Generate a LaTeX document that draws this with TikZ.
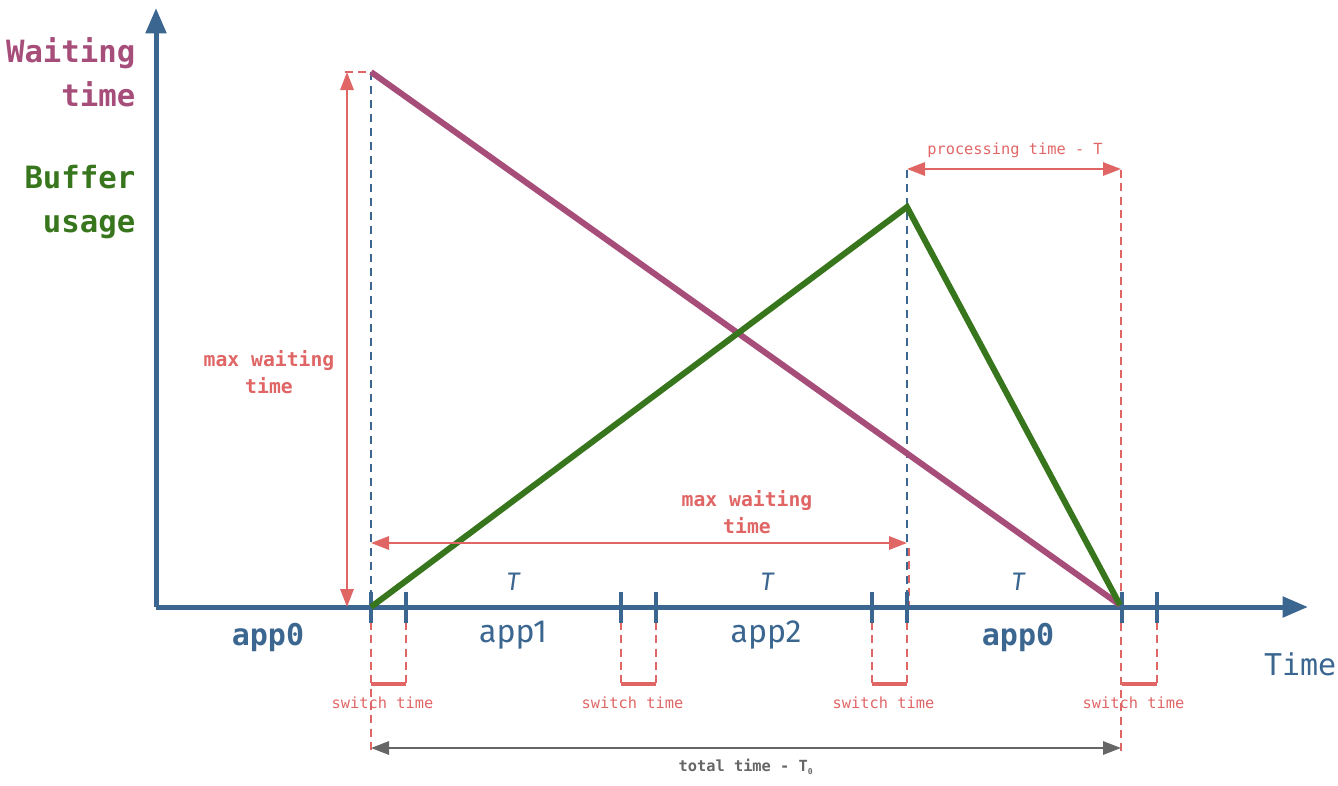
\documentclass[tikz,border=0pt]{standalone}
\usepackage{fontspec}
\setmainfont{Fira Sans}
\newfontfamily\mono{DejaVu Sans Mono}
\usetikzlibrary{arrows.meta}
\definecolor{axisblue}{RGB}{58,102,144}
\definecolor{waitpurple}{RGB}{166,77,121}
\definecolor{bufgreen}{RGB}{56,118,29}
\definecolor{annred}{RGB}{224,102,102}
\definecolor{anngray}{RGB}{102,102,102}
\tikzset{
  axisline/.style={draw=axisblue,line width=3.75pt,-{Triangle[length=19pt,width=15pt]}},
  tickmark/.style={draw=axisblue,line width=2.6pt},
  curveline/.style={line width=4.5pt,line join=miter},
  bluedash/.style={draw=axisblue,line width=1.5pt,dash pattern=on 6pt off 4.5pt},
  reddash/.style={draw=annred,line width=1.5pt,dash pattern=on 6pt off 4pt},
  redarrow/.style={draw=annred,line width=1.5pt,{Triangle[length=13.5pt,width=10pt]}-{Triangle[length=13.5pt,width=10pt]}},
  grayarrow/.style={draw=anngray,line width=1.5pt,{Triangle[length=13.5pt,width=10pt]}-{Triangle[length=13.5pt,width=10pt]}},
  bracket/.style={draw=annred,line width=3.5pt},
  bigtitle/.style={font=\mono\bfseries\fontsize{23}{33}\selectfont,align=right,anchor=east},
  swlabel/.style={font=\mono\fontsize{11.5}{14}\selectfont,text=annred},
  mwlabel/.style={font=\mono\bfseries\fontsize{14.8}{20.5}\selectfont,text=annred,align=center},
  applabel/.style={font=\fontsize{24}{28}\selectfont,text=axisblue},
  appbold/.style={font=\mono\bfseries\fontsize{22.5}{27}\selectfont,text=axisblue},
  tlabel/.style={font=\itshape\fontsize{19}{22}\selectfont,text=axisblue},
}
\begin{document}
\begin{tikzpicture}[x=0.75pt,y=-0.75pt]
\useasboundingbox (0,0) rectangle (1338,785);
% key coordinates
\coordinate (O) at (156,607);
\coordinate (Ytop) at (156,8);
\coordinate (Xend) at (1308,607);
\coordinate (Wstart) at (371,72);
\coordinate (Wend) at (1120,605);
\coordinate (Bstart) at (371,607);
\coordinate (Bpeak) at (907,207);
\coordinate (Bend) at (1120,605);

% dashed guide lines
\coordinate (b1t) at (371,72); \coordinate (b1b) at (371,592);
\draw[bluedash] (b1t) -- (b1b);
\coordinate (b2t) at (907,170); \coordinate (b2b) at (907,592);
\draw[bluedash] (b2t) -- (b2b);
\coordinate (r0l) at (345,72);
\draw[reddash] (r0l) -- (b1t);
\coordinate (r1t) at (371,622); \coordinate (r1b) at (371,753);
\draw[reddash] (r1t) -- (r1b);
\coordinate (r2t) at (1121,170); \coordinate (r2b) at (1121,753);
\draw[reddash] (r2t) -- (r2b);
\coordinate (r3t) at (909,548); \coordinate (r3b) at (909,605);
\draw[reddash] (r3t) -- (r3b);
\foreach \x in {406,621,656,872,907,1157}{
  \coordinate (sd\x t) at (\x,622); \coordinate (sd\x b) at (\x,684);
  \draw[reddash] (sd\x t) -- (sd\x b);
}
% switch brackets
\foreach \a/\b/\n in {371/406/1,621/656/2,872/907/3,1122/1157/4}{
  \coordinate (sw\n l) at (\a,684); \coordinate (sw\n r) at (\b,684);
  \draw[bracket] (sw\n l) -- (sw\n r);
  \node[swlabel] (swt\n) at ({(\a+\b)/2-6},703) {switch time};
}

% axes
\draw[axisline] (O) -- (Ytop);
\draw[axisline] (O) -- (Xend);
\foreach \x in {371,406,621,656,872,907,1122,1157}{
  \coordinate (tk\x t) at (\x,592); \coordinate (tk\x b) at (\x,623);
  \draw[tickmark] (tk\x t) -- (tk\x b);
}

% curves
\draw[curveline,draw=waitpurple] (Wstart) -- (Wend);
\draw[curveline,draw=bufgreen] (Bstart) -- (Bpeak) -- (Bend);

% annotation arrows
\coordinate (mv1) at (347,72); \coordinate (mv2) at (347,607);
\draw[redarrow] (mv1) -- (mv2);
\coordinate (mh1) at (371,543); \coordinate (mh2) at (907,543);
\draw[redarrow] (mh1) -- (mh2);
\coordinate (pt1) at (907,169); \coordinate (pt2) at (1121,169);
\draw[redarrow] (pt1) -- (pt2);
\coordinate (tt1) at (371,748); \coordinate (tt2) at (1121,748);
\draw[grayarrow] (tt1) -- (tt2);

% labels
\node[bigtitle,text=waitpurple] (wt) at (140,72) {Waiting\\time};
\node[bigtitle,text=bufgreen] (bu) at (140,202) {Buffer\\usage};
\node[mwlabel] (mwl) at (269,372) {max waiting\\time};
\node[mwlabel] (mwh) at (747,512) {max waiting\\time};
\node[swlabel] (ptl) at (1015,150) {processing time - T};
\node[font=\mono\bfseries\fontsize{11.5}{14}\selectfont,text=anngray] (ttl) at (746,767) {total time - T\textsubscript{\fontsize{6}{7}\selectfont 0}};
\node[tlabel] (t1) at (513,582) {T};
\node[tlabel] (t2) at (767,582) {T};
\node[tlabel] (t3) at (1018,582) {T};
\node[appbold] (a0) at (268,637) {app0};
\node[applabel] (a1) at (513,635) {app1};
\node[applabel] (a2) at (766,635) {app2};
\node[appbold] (a3) at (1018,637) {app0};
\node[font=\mono\fontsize{22.5}{27}\selectfont,text=axisblue,anchor=east] (tm) at (1341,664) {Time};
\end{tikzpicture}
\end{document}
